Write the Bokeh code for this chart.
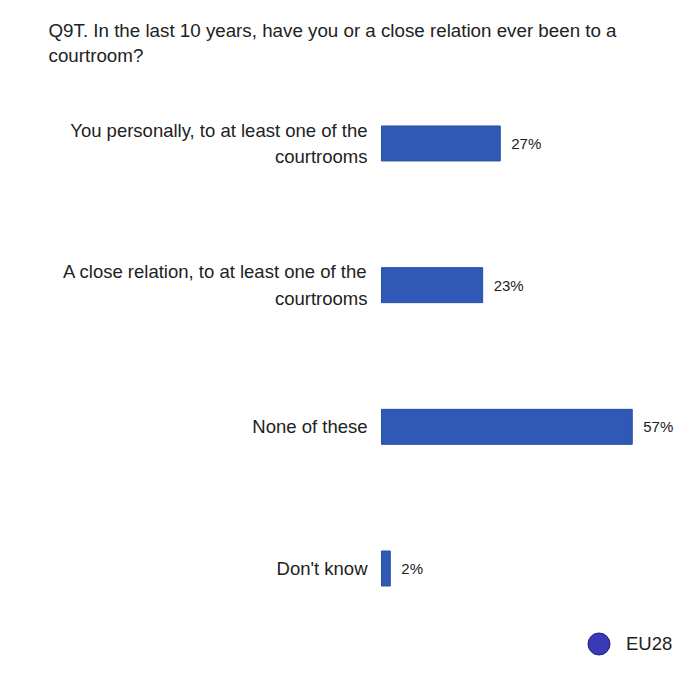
from bokeh.plotting import figure
from bokeh.models import Range1d, Label, Legend, LegendItem, ColumnDataSource
from bokeh.core.properties import value
from bokeh.embed import file_html
from bokeh.resources import INLINE

title_text = "Q9T. In the last 10 years, have you or a close relation ever been to a\ncourtroom?"
categories = [
    "You personally, to at least one of the\ncourtrooms",
    "A close relation, to at least one of the\ncourtrooms",
    "None of these",
    "Don't know",
]
values = [27, 23, 57, 2]
value_labels = ["27%", "23%", "57%", "2%"]
series_name = "EU28"

FONT_NAME = "Liberation Sans"
FONT = value(FONT_NAME)
TXT = "#222222"
W, H = 674, 673

src = ColumnDataSource(dict(
    idx=list(range(len(categories))),
    cat=categories,
    val=values,
    vlab=value_labels,
))

p = figure(width=W, height=H, output_backend="svg", toolbar_location=None,
           x_range=Range1d(-86.6, 66.6), y_range=Range1d(3.741, -1.009),
           x_axis_location=None, y_axis_location=None, min_border=0,
           background_fill_color="white", border_fill_color="white")
p.grid.visible = False
p.outline_line_color = None

p.hbar(y="idx", left=0, right="val", height=0.247, source=src,
       fill_color="#2E5AB5", line_color="#2A4FA6", line_width=1)

p.text(x=0, y="idx", text="cat", source=src, x_offset=-14,
       text_align="right", text_baseline="middle", text_font=FONT,
       text_font_size="18.5px", text_color=TXT, text_line_height=1.28)

p.text(x="val", y="idx", text="vlab", source=src, x_offset=11,
       text_align="left", text_baseline="middle", text_font=FONT,
       text_font_size="15px", text_color=TXT)

title = Label(x=48, y=H - 19, x_units="screen", y_units="screen", text=title_text,
              text_font=FONT_NAME, text_font_size="18.75px", text_color=TXT,
              text_baseline="top", text_align="left", text_line_height=1.23)
p.add_layout(title)

r = p.scatter(x=[float("nan")], y=[float("nan")], size=22, marker="circle",
              fill_color="#3A3AB8", line_color="#20207A", line_width=1)
legend = Legend(items=[LegendItem(label=series_name, renderers=[r])],
                location=(571, 2), padding=0, margin=0,
                border_line_color=None,
                background_fill_alpha=0, glyph_width=55, glyph_height=55,
                label_standoff=0, label_text_font=FONT_NAME,
                label_text_font_size="18.5px", label_text_color=TXT)
p.add_layout(legend)

open("out.html", "w").write(file_html(p, INLINE))
